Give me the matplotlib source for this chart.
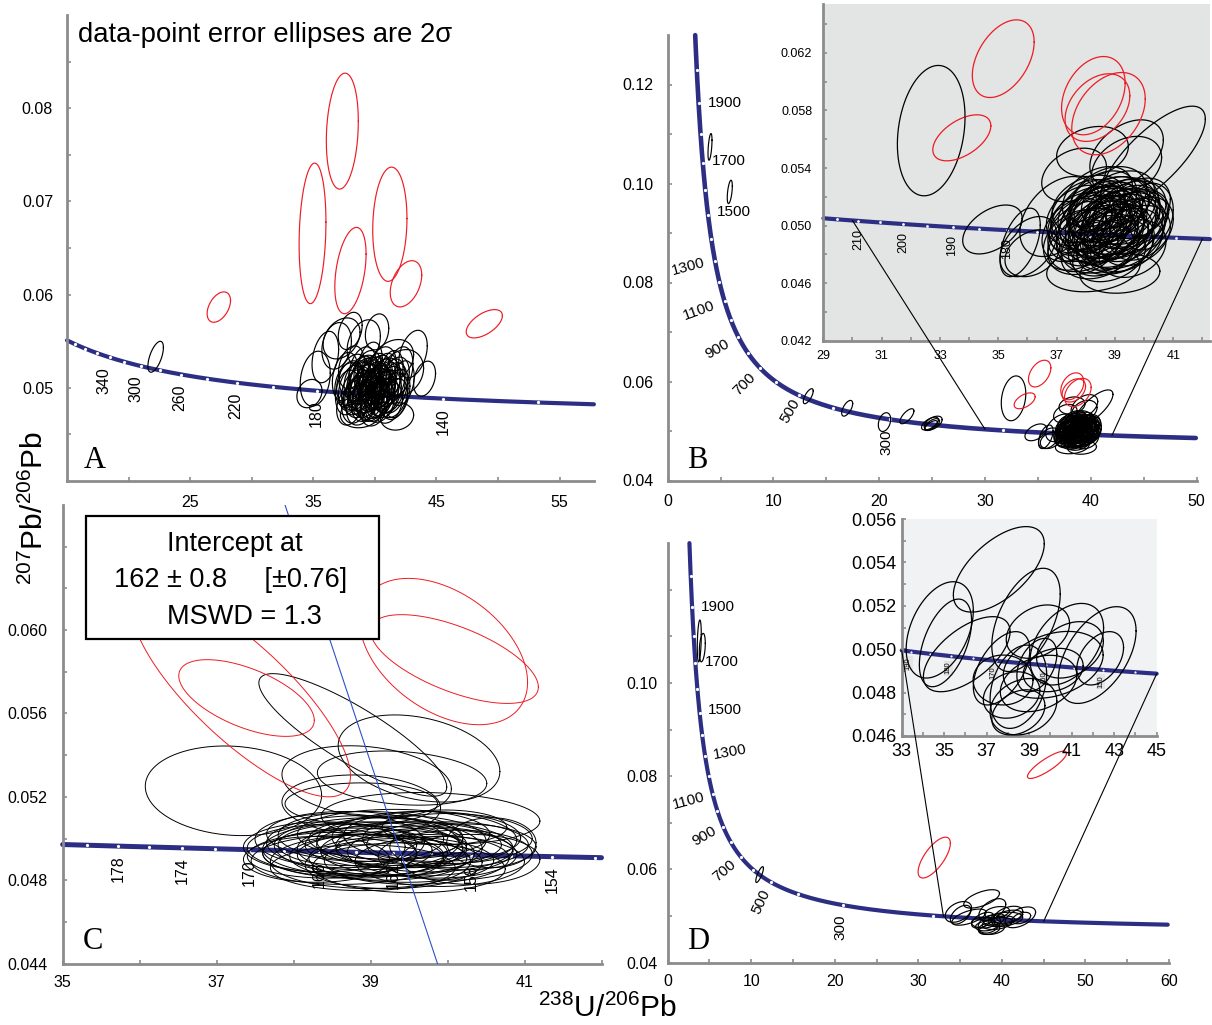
import numpy as np
import matplotlib
matplotlib.use("Agg")
import matplotlib.pyplot as plt
from matplotlib.patches import Rectangle, ConnectionPatch

plt.rcParams['font.family'] = ['Liberation Sans', 'DejaVu Sans']
plt.rcParams['mathtext.fontset'] = 'custom'
plt.rcParams['mathtext.rm'] = 'Liberation Sans'
plt.rcParams['mathtext.it'] = 'Liberation Sans:italic'
plt.rcParams['mathtext.bf'] = 'Liberation Sans:bold'

# ---------------- data ----------------
# decay constants for the Tera-Wasserburg concordia
L238 = 1.55125e-10
L235 = 9.8485e-10
U_RATIO = 137.88

# ages (Ma) of the white marks and of the labels on each concordia
A_DOT_AGES = [400, 380, 360, 340, 320, 300, 280, 260, 240, 220, 200, 180, 160, 140, 120]
A_LABEL_AGES = [340, 300, 260, 220, 180, 140]
BD_DOT_AGES = [2000, 1900, 1800, 1700, 1600, 1500, 1400, 1300, 1200, 1100, 1000,
               900, 800, 700, 600, 500, 400, 300, 200]
BD_LABEL_AGES = [1900, 1700, 1500, 1300, 1100, 900, 700, 500, 300]
BI_DOT_AGES = [215, 210, 205, 200, 195, 190, 185, 180, 175, 170, 165, 160, 155]
BI_LABEL_AGES = [210, 200, 190, 180]
C_DOT_AGES = [180, 178, 176, 174, 172, 170, 168, 166, 164, 162, 160, 158, 156, 154, 152]
C_LABEL_AGES = [178, 174, 170, 166, 162, 158, 154]
DI_DOT_AGES = [190, 185, 180, 175, 170, 165, 160, 155, 150, 145]
DI_LABEL_AGES = [190, 180, 170, 160, 150]

# error ellipses: (238U/206Pb, 207Pb/206Pb, 2s x, 2s y, rho)
A_RED = [
    (37.36, 0.07754, 1.30, 0.00622, 0.17),
    (34.94, 0.06657, 1.09, 0.00754, 0.16),
    (38.02, 0.06258, 1.27, 0.00463, 0.38),
    (41.22, 0.06755, 1.39, 0.00613, 0.10),
    (42.53, 0.06116, 1.28, 0.00248, 0.38),
    (27.33, 0.05866, 0.95, 0.00163, 0.43),
    (48.89, 0.05687, 1.47, 0.00152, 0.57),
]
A_BLACK = [
    (22.20, 0.05333, 0.63, 0.00166, 0.60),
    (37.30, 0.05530, 1.50, 0.00220, 0.30),
    (36.90, 0.05450, 1.20, 0.00250, 0.20),
    (38.00, 0.05610, 0.97, 0.00200, 0.30),
    (40.18, 0.05600, 0.95, 0.00193, 0.20),
    (43.10, 0.05362, 1.16, 0.00255, 0.35),
    (44.04, 0.05098, 0.89, 0.00188, 0.30),
    (35.16, 0.05098, 1.22, 0.00295, 0.20),
    (34.69, 0.04938, 1.02, 0.00152, 0.20),
    (38.83, 0.04723, 1.63, 0.00152, 0.10),
    (41.80, 0.04693, 1.35, 0.00147, 0.10),
    (35.98, 0.05330, 1.08, 0.00276, 0.30),
    (39.10, 0.05480, 1.35, 0.00250, 0.30),
    (41.39, 0.05286, 1.76, 0.00232, 0.30),
    (42.20, 0.05160, 1.76, 0.00250, 0.20),
    (38.0, 0.0505, 1.10, 0.0024, 0.25), (38.5, 0.0498, 1.20, 0.0022, 0.30),
    (39.0, 0.0502, 1.15, 0.0026, 0.20), (39.5, 0.0496, 1.25, 0.0023, 0.30),
    (40.0, 0.0503, 1.10, 0.0025, 0.25), (40.5, 0.0499, 1.20, 0.0021, 0.35),
    (41.0, 0.0504, 1.05, 0.0024, 0.20), (41.5, 0.0500, 1.15, 0.0027, 0.30),
    (39.2, 0.0510, 1.20, 0.0025, 0.25), (40.3, 0.0512, 1.10, 0.0023, 0.30),
    (38.7, 0.0490, 1.15, 0.0022, 0.20), (39.8, 0.0488, 1.25, 0.0024, 0.30),
    (40.8, 0.0491, 1.10, 0.0023, 0.25), (41.8, 0.0494, 1.05, 0.0026, 0.30),
    (37.8, 0.0495, 1.00, 0.0024, 0.20), (39.4, 0.0518, 1.10, 0.0022, 0.30),
    (40.6, 0.0520, 1.15, 0.0024, 0.25), (41.3, 0.0515, 1.00, 0.0025, 0.30),
    (38.3, 0.0513, 1.20, 0.0023, 0.25), (39.9, 0.0480, 1.10, 0.0021, 0.20),
    (38.9, 0.0483, 1.20, 0.0023, 0.30), (41.1, 0.0484, 1.15, 0.0022, 0.25),
    (42.2, 0.0505, 1.00, 0.0024, 0.30), (37.6, 0.0512, 1.05, 0.0026, 0.25),
    (40.1, 0.0494, 1.30, 0.0027, 0.30), (39.1, 0.0507, 1.25, 0.0025, 0.35),
    (40.9, 0.0508, 1.20, 0.0024, 0.25), (38.4, 0.0485, 1.10, 0.0023, 0.20),
    (41.6, 0.0488, 1.05, 0.0022, 0.30), (39.6, 0.0525, 1.00, 0.0024, 0.30),
    (38.1, 0.0522, 1.05, 0.0023, 0.25), (42.0, 0.0518, 1.10, 0.0026, 0.30),
    (40.4, 0.0485, 1.20, 0.0022, 0.25), (39.3, 0.0492, 1.15, 0.0024, 0.30),
    (37.9, 0.0480, 1.00, 0.0020, 0.20), (40.7, 0.0497, 0.95, 0.0021, 0.20),
    (39.7, 0.0501, 0.90, 0.0020, 0.25), (38.8, 0.0496, 0.95, 0.0021, 0.30),
    (38.2, 0.0500, 1.15, 0.0025, 0.30), (38.6, 0.0507, 1.10, 0.0022, 0.25),
    (39.0, 0.0495, 1.20, 0.0024, 0.30), (39.4, 0.0503, 1.05, 0.0023, 0.20),
    (39.8, 0.0508, 1.15, 0.0025, 0.30), (40.2, 0.0500, 1.20, 0.0024, 0.25),
    (40.6, 0.0505, 1.10, 0.0026, 0.30), (41.0, 0.0496, 1.15, 0.0023, 0.25),
    (41.4, 0.0507, 1.05, 0.0024, 0.30), (38.9, 0.0512, 1.10, 0.0022, 0.30),
    (39.6, 0.0489, 1.15, 0.0023, 0.25), (40.4, 0.0493, 1.20, 0.0025, 0.30),
    (40.8, 0.0515, 1.05, 0.0022, 0.25), (39.0, 0.0520, 1.10, 0.0024, 0.30),
    (40.0, 0.0486, 1.15, 0.0022, 0.20), (38.5, 0.0492, 1.05, 0.0021, 0.30),
    (41.2, 0.0498, 1.25, 0.0025, 0.30), (39.3, 0.0499, 1.30, 0.0026, 0.25),
    (40.0, 0.0510, 1.25, 0.0027, 0.30), (38.7, 0.0503, 1.00, 0.0020, 0.25),
    (39.5, 0.0512, 0.95, 0.0021, 0.30), (40.5, 0.0490, 1.00, 0.0020, 0.25),
    (41.7, 0.0510, 1.10, 0.0023, 0.30), (37.9, 0.0503, 1.15, 0.0024, 0.20),
    (39.8, 0.0496, 1.05, 0.0022, 0.30), (40.3, 0.0506, 0.95, 0.0020, 0.25),
    (39.2, 0.0486, 1.10, 0.0022, 0.25), (41.5, 0.0492, 1.20, 0.0024, 0.30),
]

B_RED = [
    (33.75, 0.05610, 0.995, 0.00160, 0.52),
    (35.17, 0.06160, 1.06, 0.00270, 0.43),
    (38.26, 0.05903, 1.09, 0.00272, 0.32),
    (38.40, 0.05820, 1.11, 0.00235, 0.35),
    (38.78, 0.05778, 1.26, 0.00286, 0.36),
]
B_BLACK = [
    (32.70, 0.05660, 1.16, 0.00453, 0.21),
    (40.30, 0.05470, 1.80, 0.00360, 0.75),
    (39.40, 0.05503, 1.26, 0.00232, 0.40),
    (34.80, 0.04973, 1.02, 0.00170, 0.45),
    (35.75, 0.04883, 0.69, 0.00238, 0.50),
    (36.17, 0.04808, 0.94, 0.00163, 0.30),
    (37.60, 0.05352, 1.11, 0.00186, 0.30),
    (38.23, 0.05515, 1.23, 0.00174, 0.20),
    (39.40, 0.05411, 1.20, 0.00209, 0.30),
    (38.77, 0.05190, 1.31, 0.00220, 0.30),
    (40.09, 0.05063, 0.91, 0.00232, 0.20),
    (36.03, 0.04854, 0.97, 0.00209, 0.40),
    (38.26, 0.04697, 1.60, 0.00157, 0.20),
    (39.17, 0.04669, 1.37, 0.00139, 0.10),
    (37.05, 0.05063, 1.31, 0.00278, 0.40),
    (38.0, 0.0500, 1.25, 0.0021, 0.30), (38.4, 0.0505, 1.30, 0.0022, 0.35),
    (38.8, 0.0498, 1.20, 0.0020, 0.30), (39.2, 0.0503, 1.35, 0.0023, 0.35),
    (38.6, 0.0510, 1.25, 0.0021, 0.30), (39.0, 0.0493, 1.30, 0.0022, 0.25),
    (38.2, 0.0492, 1.20, 0.0020, 0.30), (39.5, 0.0497, 1.25, 0.0022, 0.35),
    (37.8, 0.0507, 1.15, 0.0021, 0.30), (38.9, 0.0514, 1.30, 0.0020, 0.30),
    (39.3, 0.0510, 1.20, 0.0023, 0.35), (38.5, 0.0488, 1.35, 0.0021, 0.25),
    (39.7, 0.0505, 1.15, 0.0020, 0.30), (37.6, 0.0497, 1.10, 0.0022, 0.35),
    (38.1, 0.0515, 1.25, 0.0020, 0.30), (39.0, 0.0485, 1.30, 0.0019, 0.25),
    (38.7, 0.0502, 1.40, 0.0024, 0.30), (39.4, 0.0490, 1.25, 0.0022, 0.30),
    (37.9, 0.0485, 1.20, 0.0019, 0.25), (38.3, 0.0498, 1.30, 0.0023, 0.35),
    (39.8, 0.0512, 1.10, 0.0021, 0.30), (38.6, 0.0495, 1.20, 0.0022, 0.30),
    (39.1, 0.0518, 1.25, 0.0020, 0.35), (38.0, 0.0510, 1.20, 0.0022, 0.30),
    (39.6, 0.0484, 1.15, 0.0020, 0.25), (38.8, 0.0480, 1.25, 0.0019, 0.25),
    (37.7, 0.0490, 1.15, 0.0021, 0.30), (39.9, 0.0498, 1.10, 0.0022, 0.30),
    (38.4, 0.0520, 1.20, 0.0021, 0.35), (39.3, 0.0500, 1.35, 0.0023, 0.30),
    (38.9, 0.0506, 1.00, 0.0018, 0.30), (38.5, 0.0500, 1.05, 0.0019, 0.30),
    (39.1, 0.0495, 1.05, 0.0018, 0.25),
    (38.3, 0.0503, 1.20, 0.0021, 0.30), (38.7, 0.0508, 1.25, 0.0022, 0.35),
    (39.1, 0.0501, 1.30, 0.0021, 0.30), (38.5, 0.0494, 1.20, 0.0020, 0.25),
    (38.9, 0.0490, 1.25, 0.0021, 0.30), (39.4, 0.0506, 1.15, 0.0022, 0.35),
    (38.1, 0.0505, 1.30, 0.0022, 0.30), (37.9, 0.0496, 1.20, 0.0021, 0.30),
    (39.2, 0.0512, 1.20, 0.0020, 0.30), (38.6, 0.0517, 1.15, 0.0021, 0.30),
    (39.6, 0.0502, 1.20, 0.0022, 0.35), (38.4, 0.0483, 1.25, 0.0020, 0.25),
    (39.2, 0.0487, 1.15, 0.0020, 0.30), (38.0, 0.0490, 1.30, 0.0022, 0.30),
    (38.8, 0.0511, 1.35, 0.0023, 0.30), (39.0, 0.0500, 1.45, 0.0025, 0.35),
    (38.5, 0.0509, 1.10, 0.0019, 0.30), (39.7, 0.0493, 1.20, 0.0021, 0.30),
    (38.2, 0.0510, 1.15, 0.0022, 0.35), (38.9, 0.0495, 1.10, 0.0020, 0.30),
    (39.5, 0.0509, 1.25, 0.0022, 0.30), (38.6, 0.0486, 1.20, 0.0021, 0.25),
    (37.8, 0.0502, 1.10, 0.0021, 0.30), (39.3, 0.0494, 1.40, 0.0024, 0.30),
    (38.7, 0.0499, 1.30, 0.0022, 0.30),
]
# analyses of the same sample lying outside the B inset
B_OLD = [
    (4.00, 0.10740, 0.19, 0.00270, 0.50),
    (5.87, 0.09830, 0.24, 0.00236, 0.50),
    (13.29, 0.05703, 0.47, 0.00152, 0.70),
    (16.97, 0.05459, 0.52, 0.00159, 0.60),
    (20.50, 0.05180, 0.585, 0.00190, 0.30),
    (22.62, 0.05298, 0.66, 0.00152, 0.70),
    (24.80, 0.05150, 0.80, 0.00130, 0.60),
    (25.00, 0.05130, 0.70, 0.00120, 0.60),
    (25.10, 0.05160, 0.85, 0.00140, 0.50),
    (24.90, 0.05110, 0.60, 0.00100, 0.70),
]

C_RED = [
    (37.32, 0.05700, 1.42, 0.00500, -0.80),
    (37.39, 0.05674, 0.88, 0.00184, -0.58),
    (39.95, 0.05897, 1.09, 0.00351, -0.42),
    (40.09, 0.05861, 1.09, 0.00213, -0.63),
]
C_BLACK = [
    (37.22, 0.05229, 1.145, 0.00215, -0.10),
    (38.77, 0.05497, 1.22, 0.00294, -0.85),
    (39.63, 0.05384, 1.05, 0.00209, -0.30),
    (38.95, 0.05273, 1.10, 0.00172, -0.20),
    (39.41, 0.05290, 1.10, 0.00130, -0.20),
    (38.88, 0.05161, 1.03, 0.00144, -0.10),
    (39.78, 0.05096, 1.42, 0.00125, -0.10),
    (38.88, 0.05167, 0.99, 0.00100, 0.00),
    (39.96, 0.05054, 0.81, 0.00083, 0.00),
    (40.57, 0.04980, 0.58, 0.00120, 0.00),
    (38.6, 0.0495, 1.20, 0.0012, -0.05), (38.9, 0.0498, 1.25, 0.0013, 0.00),
    (39.2, 0.0494, 1.15, 0.0012, -0.10), (39.5, 0.0497, 1.20, 0.0011, 0.00),
    (39.8, 0.0493, 1.10, 0.0012, -0.05), (38.7, 0.0490, 1.25, 0.0012, 0.05),
    (39.0, 0.0489, 1.30, 0.0013, 0.00), (39.4, 0.0490, 1.20, 0.0011, -0.05),
    (39.9, 0.0489, 1.10, 0.0012, 0.00), (38.8, 0.0501, 1.15, 0.0012, -0.10),
    (39.3, 0.0502, 1.25, 0.0012, 0.00), (39.7, 0.0500, 1.20, 0.0013, -0.05),
    (40.0, 0.0497, 1.05, 0.0011, 0.00), (38.5, 0.0492, 1.10, 0.0011, 0.05),
    (39.1, 0.0496, 1.35, 0.0014, -0.05), (39.6, 0.0494, 1.25, 0.0012, 0.00),
    (38.9, 0.0486, 1.20, 0.0011, 0.00), (39.5, 0.0486, 1.25, 0.0012, -0.05),
    (40.1, 0.0492, 1.00, 0.0012, 0.05), (38.6, 0.0499, 1.10, 0.0013, -0.05),
    (39.2, 0.0500, 1.00, 0.0010, 0.00), (39.0, 0.0492, 0.95, 0.0010, 0.00),
    (39.8, 0.0501, 1.15, 0.0012, -0.05), (38.4, 0.0496, 1.05, 0.0012, 0.00),
    (40.2, 0.0496, 0.95, 0.0011, 0.00), (39.3, 0.0488, 1.15, 0.0012, 0.05),
    (38.7, 0.0497, 0.90, 0.0010, 0.00), (39.4, 0.0495, 0.85, 0.0009, 0.00),
    (40.3, 0.0490, 0.90, 0.0012, 0.00), (38.3, 0.0490, 0.95, 0.0011, 0.00),
    (38.8, 0.0493, 1.20, 0.0012, 0.00), (39.1, 0.0491, 1.15, 0.0011, -0.05),
    (39.4, 0.0499, 1.10, 0.0012, 0.00), (39.6, 0.0490, 1.20, 0.0012, 0.05),
    (38.9, 0.0495, 1.30, 0.0013, 0.00), (39.2, 0.0497, 1.05, 0.0011, 0.00),
    (39.7, 0.0496, 1.15, 0.0012, -0.05), (38.6, 0.0493, 1.00, 0.0011, 0.00),
    (40.0, 0.0500, 1.10, 0.0012, 0.00), (39.0, 0.0501, 1.20, 0.0012, -0.05),
]
# regression line through the sample C analyses (two end points)
C_LINE_X = [37.89, 39.87]
C_LINE_Y = [0.066, 0.044]

D_BLACK = [
    (37.57, 0.05368, 2.14, 0.00197, 0.60),
    (34.79, 0.05089, 1.58, 0.00222, 0.40),
    (35.06, 0.05029, 1.23, 0.00202, 0.50),
    (36.06, 0.04977, 2.04, 0.00173, 0.60),
    (38.85, 0.05135, 1.61, 0.00238, 0.50),
    (42.20, 0.04973, 1.83, 0.00223, 0.50),
    (40.77, 0.05023, 1.73, 0.00188, 0.40),
    (38.73, 0.04735, 1.57, 0.00130, 0.20),
    (38.49, 0.04827, 1.33, 0.00192, 0.30),
    (37.70, 0.04912, 1.33, 0.00169, 0.50),
    (40.13, 0.04928, 2.35, 0.00154, 0.30),
    (40.13, 0.04904, 1.41, 0.00100, 0.20),
    (37.77, 0.04858, 1.41, 0.00115, 0.00),
    (38.49, 0.04709, 1.25, 0.00104, 0.30),
    (40.92, 0.04997, 1.57, 0.00130, 0.30),
    (39.41, 0.05081, 1.49, 0.00123, 0.30),
    (42.34, 0.04958, 1.10, 0.00123, 0.40),
    (38.17, 0.04789, 1.33, 0.00107, 0.20),
    (39.44, 0.04842, 1.80, 0.00130, 0.30),
    (39.36, 0.04927, 0.94, 0.00123, 0.40),
]
D_OLD = [
    (3.78, 0.10900, 0.24, 0.00450, 0.30),
    (4.14, 0.10757, 0.36, 0.00305, 0.30),
    (11.00, 0.05890, 0.46, 0.00170, 0.80),
]
D_RED = [
    (31.90, 0.06254, 1.93, 0.00438, 0.70),
    (45.40, 0.08243, 2.34, 0.00293, 0.85),
]

# tick values and labels
A_XT = [20, 25, 30, 35, 40, 45, 50, 55]
A_XL = ['', '25', '', '35', '', '45', '', '55']
A_YT = [0.045, 0.05, 0.055, 0.06, 0.065, 0.07, 0.075, 0.08, 0.085]
A_YL = ['', '0.05', '', '0.06', '', '0.07', '', '0.08', '']
B_XT = [0, 5, 10, 15, 20, 25, 30, 35, 40, 45, 50]
B_XL = ['0', '', '10', '', '20', '', '30', '', '40', '', '50']
B_YT = [0.04, 0.05, 0.06, 0.07, 0.08, 0.09, 0.10, 0.11, 0.12]
B_YL = ['0.04', '', '0.06', '', '0.08', '', '0.10', '', '0.12']
BI_XT = [29, 30, 31, 32, 33, 34, 35, 36, 37, 38, 39, 40, 41, 42]
BI_XL = ['29', '', '31', '', '33', '', '35', '', '37', '', '39', '', '41', '']
BI_YT = [0.042, 0.044, 0.046, 0.048, 0.050, 0.052, 0.054, 0.056, 0.058, 0.060, 0.062, 0.064]
BI_YL = ['0.042', '', '0.046', '', '0.050', '', '0.054', '', '0.058', '', '0.062', '']
C_XT = [35, 36, 37, 38, 39, 40, 41, 42]
C_XL = ['35', '', '37', '', '39', '', '41', '']
C_YT = [0.044, 0.046, 0.048, 0.050, 0.052, 0.054, 0.056, 0.058, 0.060, 0.062, 0.064]
C_YL = ['0.044', '', '0.048', '', '0.052', '', '0.056', '', '0.060', '', '']
D_XT = [0, 5, 10, 15, 20, 25, 30, 35, 40, 45, 50, 55, 60]
D_XL = ['0', '', '10', '', '20', '', '30', '', '40', '', '50', '', '60']
D_YT = [0.04, 0.05, 0.06, 0.07, 0.08, 0.09, 0.10, 0.11, 0.12]
D_YL = ['0.04', '', '0.06', '', '0.08', '', '0.10', '', '']
DI_XT = [33, 34, 35, 36, 37, 38, 39, 40, 41, 42, 43, 44, 45]
DI_XL = ['33', '', '35', '', '37', '', '39', '', '41', '', '43', '', '45']
DI_YT = [0.046, 0.047, 0.048, 0.049, 0.050, 0.051, 0.052, 0.053, 0.054, 0.055, 0.056]
DI_YL = ['0.046', '', '0.048', '', '0.050', '', '0.052', '', '0.054', '', '0.056']

# ---------------- drawing ----------------
W, H = 1212, 1025
NAVY = '#2b2e83'
GREY = '#8c8c8c'
RED = '#ed1c24'

fig = plt.figure(figsize=(W / 100, H / 100), dpi=100)


def px_axes(left, top, right, bottom):
    return fig.add_axes([left / W, 1 - bottom / H, (right - left) / W, (bottom - top) / H])


def tw(t_ma):
    t = np.asarray(t_ma, dtype=float) * 1e6
    e8 = np.exp(L238 * t) - 1
    e5 = np.exp(L235 * t) - 1
    return 1 / e8, e5 / e8 / U_RATIO


def style(ax, xt, xl, yt, yl, xlim, ylim, fs, xpad, ypad, face='none'):
    ax.set_xlim(xlim)
    ax.set_ylim(ylim)
    ax.set_facecolor(face)
    for s in ['top', 'right']:
        ax.spines[s].set_visible(False)
    for s in ['left', 'bottom']:
        ax.spines[s].set_color(GREY)
        ax.spines[s].set_linewidth(2)
    ax.set_xticks(xt)
    ax.set_xticklabels(xl)
    ax.set_yticks(yt)
    ax.set_yticklabels(yl)
    ax.tick_params(direction='in', length=3, width=1.2, color=GREY,
                   labelsize=fs, labelcolor='black')
    ax.tick_params(axis='x', pad=xpad)
    ax.tick_params(axis='y', pad=ypad)


def concordia(ax, t_lo, t_hi, lw, dot_ages, ms=2.3):
    t = np.linspace(t_lo, t_hi, 4000)
    x, y = tw(t)
    xl, yl = ax.get_xlim(), ax.get_ylim()
    m = (x >= xl[0]) & (x <= xl[1]) & (y >= yl[0]) & (y <= yl[1])
    ax.plot(x[m], y[m], color=NAVY, lw=lw, solid_capstyle='round', zorder=2, clip_on=False)
    dx, dy = tw(dot_ages)
    ax.plot(dx, dy, 'o', ms=ms, mfc='white', mec='none', zorder=3)


def age_labels(ax, ages, offs, rots, fs, bbox=None):
    for a, (ox, oy), r in zip(ages, offs, rots):
        x, y = tw(a)
        ax.annotate(str(a), (float(x), float(y)), xytext=(ox, -oy), textcoords='offset pixels',
                    ha='center', va='center', rotation=r, fontsize=fs, zorder=3, bbox=bbox)


theta = np.linspace(0, 2 * np.pi, 240)


def ellipses(ax, items, color, lw=0.85):
    for cx, cy, sx, sy, r in items:
        xs = cx + sx * np.cos(theta)
        ys = cy + sy * (r * np.cos(theta) + np.sqrt(1 - r * r) * np.sin(theta))
        ax.plot(xs, ys, color=color, lw=lw, zorder=4)


# ---- A ----
axA = px_axes(67, 15, 594, 481)
style(axA, A_XT, A_XL, A_YT, A_YL, (15, 57.8), (0.04, 0.09), 11.5, 10, 10)
concordia(axA, 100, 450, 3.0, A_DOT_AGES)
age_labels(axA, A_LABEL_AGES,
           [(-6, 23), (-5, 23), (-2, 23), (-1, 23), (-1, 23), (0, 23)],
           [90] * 6, 11.5)
ellipses(axA, A_BLACK, 'black')
ellipses(axA, A_RED, RED)

# ---- B ----
axB = px_axes(667.7, 35, 1196.5, 480.5)
style(axB, B_XT, B_XL, B_YT, B_YL, (0, 50), (0.04, 0.13), 11.5, 10, 10)
concordia(axB, 100, 2200, 3.3, BD_DOT_AGES)
age_labels(axB, BD_LABEL_AGES,
           [(26, 0), (26, -1.5), (26, -3), (-27, 6), (-26, 9), (-21, 12), (-16, 16), (-9, 16), (-3, 23)],
           [0, 0, 0, 15, 20, 30, 45, 60, 90], 11)
ellipses(axB, B_OLD, 'black')
ellipses(axB, B_BLACK, 'black')
ellipses(axB, B_RED, RED)

axBi = px_axes(823.3, 4, 1210, 340.7)
style(axBi, BI_XT, BI_XL, BI_YT, BI_YL, (29, 42.26), (0.042, 0.0654), 9, 7, 8, face='#e3e4e4')
concordia(axBi, 140, 230, 3.0, BI_DOT_AGES, ms=2.0)
age_labels(axBi, BI_LABEL_AGES, [(0, 18.5)] * 4, [90] * 4, 9)
ellipses(axBi, B_BLACK, 'black', 0.9)
ellipses(axBi, B_RED, RED, 0.9)

for xc in [30, 42]:
    yc = float(tw(np.log(1 + 1 / xc) / L238 / 1e6)[1])
    con = ConnectionPatch(xyA=(xc, yc), coordsA=axBi.transData,
                          xyB=(xc, yc), coordsB=axB.transData, color='black', lw=0.8)
    fig.add_artist(con)

# ---- C ----
axC = px_axes(62.5, 505, 601.5, 963.6)
style(axC, C_XT, C_XL, C_YT, C_YL, (35, 42), (0.044, 0.066), 11.5, 8, 11)
concordia(axC, 140, 200, 3.6, C_DOT_AGES)
age_labels(axC, C_LABEL_AGES, [(0, 23)] * 7, [90] * 7, 11.5)
ellipses(axC, C_BLACK, 'black', 0.7)
ellipses(axC, C_RED, RED, 0.7)
axC.plot(C_LINE_X, C_LINE_Y, color='#3050c8', lw=0.8, zorder=5)

# ---- D ----
axD = px_axes(667.7, 543, 1169, 962.7)
style(axD, D_XT, D_XL, D_YT, D_YL, (0, 60), (0.04, 0.13), 11.5, 8, 7)
concordia(axD, 100, 2200, 3.0, BD_DOT_AGES)
age_labels(axD, BD_LABEL_AGES,
           [(26, 0), (26, -1.6), (25.6, -2.6), (25, -4), (-24, 7), (-19.5, 9), (-16, 14), (-10, 19), (-3, 22)],
           [0, 0, 0, 10, 15, 30, 40, 65, 90], 11)
ellipses(axD, D_OLD, 'black')
ellipses(axD, D_BLACK, 'black')
ellipses(axD, D_RED, RED)

axDi = px_axes(901.7, 519, 1156.7, 736)
style(axDi, DI_XT, DI_XL, DI_YT, DI_YL, (33, 45), (0.046, 0.056), 13, 5, 3.5, face='#f1f2f4')
concordia(axDi, 140, 200, 3.0, DI_DOT_AGES, ms=1.6)
age_labels(axDi, DI_LABEL_AGES, [(-2.5, 12)] * 5, [90] * 5, 5.5,
           bbox=dict(boxstyle='square,pad=0.15', fc='#e4e4e4', ec='none'))
ellipses(axDi, D_BLACK, 'black', 0.9)

for xc in [33, 45]:
    yc = float(tw(np.log(1 + 1 / xc) / L238 / 1e6)[1])
    con = ConnectionPatch(xyA=(xc, yc), coordsA=axDi.transData,
                          xyB=(xc, yc), coordsB=axD.transData, color='black', lw=0.8)
    fig.add_artist(con)


# ---- figure-level text ----
def ftext(x, y, s, **kw):
    fig.text(x / W, 1 - y / H, s, **kw)


ftext(78, 41.5, 'data-point error ellipses are 2σ', fontsize=19.8, va='baseline', ha='left')

fig.add_artist(Rectangle((86.4 / W, 1 - 639.1 / H), (379.4 - 86.4) / W, (639.1 - 515.6) / H,
                         transform=fig.transFigure, fc='white', ec='black', lw=1.6, zorder=6))
ftext(235, 551.4, 'Intercept at', fontsize=19.5, ha='center', va='baseline', zorder=7)
ftext(230.5, 587.3, '162 ± 0.8     [±0.76]', fontsize=19.5, ha='center', va='baseline', zorder=7)
ftext(244.8, 624, 'MSWD = 1.3', fontsize=19.5, ha='center', va='baseline', zorder=7)

for letter, x, y in [('A', 84, 468), ('B', 687, 468), ('C', 83, 949), ('D', 687, 949)]:
    ftext(x, y, letter, fontsize=22, family='Liberation Serif', ha='left', va='baseline')

ftext(34, 508, r'$^{207}$Pb/$^{206}$Pb', fontsize=21.5, rotation=90, ha='center', va='center')
ftext(608, 1008, r'$^{238}$U/$^{206}$Pb', fontsize=21.5, ha='center', va='center')

fig.savefig('out.png', dpi=100)
